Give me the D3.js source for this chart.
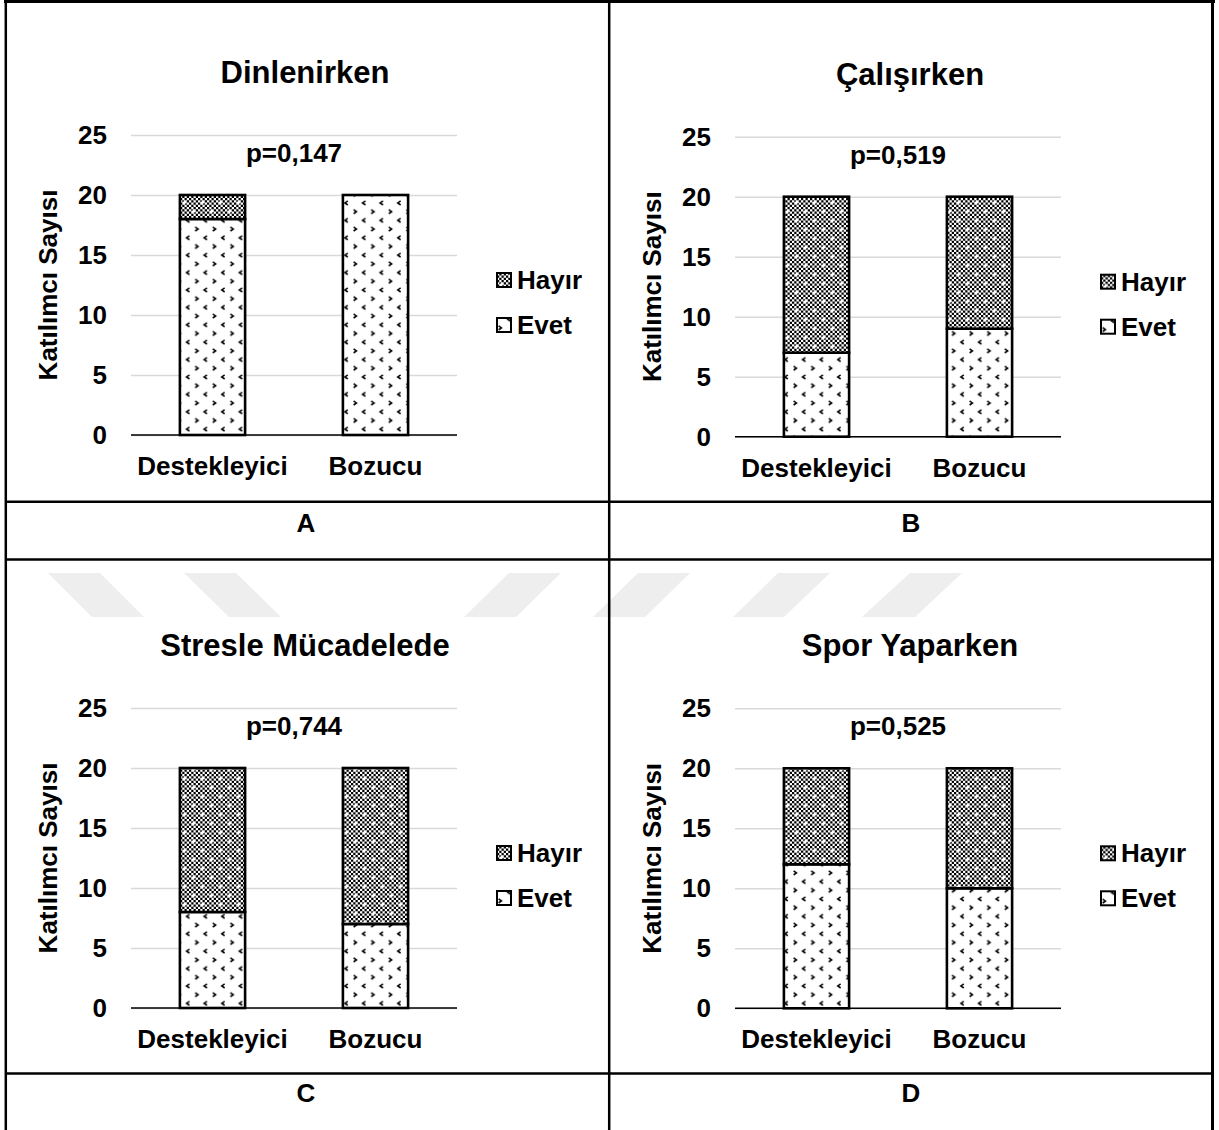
<!DOCTYPE html>
<html>
<head>
<meta charset="utf-8">
<script src="https://cdn.jsdelivr.net/npm/d3@7"></script>
<style>
  html, body { margin: 0; padding: 0; background: #fff; }
  svg { display: block; }
  text { font-family: "Liberation Sans", Arial, Helvetica, sans-serif; font-weight: bold; fill: #000; }
</style>
</head>
<body>
<svg id="fig" width="1219" height="1130"></svg>
<script>
// ---- data ----
const panelLetters = ["A", "B", "C", "D"];
const titles = ["Dinlenirken", "Çalışırken", "Stresle Mücadelede", "Spor Yaparken"];
const pLabels = ["p=0,147", "p=0,519", "p=0,744", "p=0,525"];
const categories = ["Destekleyici", "Bozucu"];
const seriesKeys = ["Evet", "Hayır"];
const evetCounts  = [[18, 20], [7, 9], [8, 7], [12, 10]];
const hayirCounts = [[2, 0], [13, 11], [12, 13], [8, 10]];
const yTicks = [0, 5, 10, 15, 20, 25];
const yMax = 25;

// ---- layout of the four cells ----
const layout = [
  { left: 131, right: 457,  top: 135,   bottom: 435,   cx: 305, letterY: 532 },
  { left: 735, right: 1061, top: 136.7, bottom: 436.7, cx: 910, letterY: 532 },
  { left: 131, right: 457,  top: 708,   bottom: 1008,  cx: 305, letterY: 1102 },
  { left: 735, right: 1061, top: 708.3, bottom: 1008.3, cx: 910, letterY: 1102 }
];

const svg = d3.select("#fig");
const defs = svg.append("defs");

// "Evet" fill: white with small black arrowheads
const pe = defs.append("pattern").attr("id", "pat-evet")
  .attr("patternUnits", "userSpaceOnUse").attr("width", 17.6).attr("height", 17.4);
pe.append("rect").attr("width", 17.6).attr("height", 17.4).attr("fill", "#fff");
pe.append("path").attr("d", "M1.6,0.8 L4.4,2.8 L1.6,4.8").attr("fill", "none")
  .attr("stroke", "#000").attr("stroke-width", 1.6);
pe.append("path").attr("d", "M13.4,9.5 L10.6,11.5 L13.4,13.5").attr("fill", "none")
  .attr("stroke", "#000").attr("stroke-width", 1.6);

// "Hayır" fill: fine dark checker with white sparkles
const ph = defs.append("pattern").attr("id", "pat-hayir")
  .attr("patternUnits", "userSpaceOnUse").attr("width", 18).attr("height", 18);
ph.append("rect").attr("width", 18).attr("height", 18).attr("fill", "#fff");
const cell = 2.25;
for (let i = 0; i < 8; i++) {
  for (let j = 0; j < 8; j++) {
    if ((i + j) % 2 === 0) {
      ph.append("rect").attr("x", i * cell).attr("y", j * cell)
        .attr("width", cell).attr("height", cell).attr("fill", "#000");
    }
  }
}
[[4.5, 4.5], [13.5, 13.5]].forEach(([x, y]) => {
  ph.append("rect").attr("x", x - 0.75).attr("y", y - 2).attr("width", 1.5).attr("height", 4).attr("fill", "#fff");
  ph.append("rect").attr("x", x - 2).attr("y", y - 0.75).attr("width", 4).attr("height", 1.5).attr("fill", "#fff");
});

const fills = { "Evet": "url(#pat-evet)", "Hayır": "url(#pat-hayir)" };

// faint diagonal stripes behind the gap between the two rows
const stripes = [
  [[48, 573], [100, 573], [144, 617], [92, 617]],
  [[184, 573], [236, 573], [281, 617], [229, 617]],
  [[509, 573], [561, 573], [516, 617], [464, 617]],
  [[638, 573], [690, 573], [645, 617], [593, 617]],
  [[778, 573], [830, 573], [784, 617], [733, 617]],
  [[910, 573], [962, 573], [915, 617], [862, 617]]
];
svg.append("g").selectAll("polygon").data(stripes).join("polygon")
  .attr("points", d => d.map(p => p.join(",")).join(" "))
  .attr("fill", "#eeeeee");

// ---- the four charts ----
panelLetters.forEach((letter, i) => {
  const L = layout[i];
  const g = svg.append("g");

  const rows = categories.map((c, k) => ({ cat: c, "Evet": evetCounts[i][k], "Hayır": hayirCounts[i][k] }));
  const stacked = d3.stack().keys(seriesKeys)(rows);

  const x = d3.scaleBand().domain(categories).range([L.left, L.right])
    .paddingInner(0.6).paddingOuter(0.3);
  const y = d3.scaleLinear().domain([0, yMax]).range([L.bottom, L.top]);

  // gridlines + tick labels
  const yAxis = g.append("g").attr("transform", `translate(${L.left},0)`)
    .call(d3.axisLeft(y).tickValues(yTicks).tickSize(-(L.right - L.left)).tickPadding(24));
  yAxis.select(".domain").remove();
  yAxis.selectAll(".tick line").attr("stroke", "#d9d9d9").attr("stroke-width", 1.4);
  yAxis.selectAll(".tick text").attr("font-size", 26)
    .attr("font-family", "Liberation Sans, Arial, sans-serif").attr("font-weight", "bold").attr("fill", "#000");

  // baseline
  g.append("line").attr("x1", L.left).attr("x2", L.right)
    .attr("y1", y(0)).attr("y2", y(0)).attr("stroke", "#000").attr("stroke-width", 1.6);

  // stacked bars
  g.append("g").selectAll("g").data(stacked).join("g")
    .attr("fill", d => fills[d.key])
    .selectAll("rect").data(d => d.filter(s => s[1] > s[0])).join("rect")
    .attr("x", d => x(d.data.cat))
    .attr("width", x.bandwidth())
    .attr("y", d => y(d[1]))
    .attr("height", d => y(d[0]) - y(d[1]))
    .attr("stroke", "#000").attr("stroke-width", 2.6);

  // category labels
  const xAxis = g.append("g").attr("transform", `translate(0,${y(0)})`)
    .call(d3.axisBottom(x).tickSize(0).tickPadding(21.5));
  xAxis.select(".domain").remove();
  xAxis.selectAll(".tick text").attr("font-size", 26)
    .attr("font-family", "Liberation Sans, Arial, sans-serif").attr("font-weight", "bold").attr("fill", "#000");

  // title
  g.append("text").attr("x", L.cx).attr("y", L.top - 52)
    .attr("text-anchor", "middle").attr("font-size", 31).text(titles[i]);

  // p value
  g.append("text").attr("x", (L.left + L.right) / 2).attr("y", L.top + 27)
    .attr("text-anchor", "middle").attr("font-size", 26).text(pLabels[i]);

  // y-axis title
  g.append("text")
    .attr("transform", `translate(${L.left - 83},${(L.top + L.bottom) / 2}) rotate(-90)`)
    .attr("text-anchor", "middle").attr("dominant-baseline", "central")
    .attr("font-size", 26).text("Katılımcı Sayısı");

  // legend (Hayır above Evet)
  const legendKeys = seriesKeys.slice().reverse();
  const mid = (L.top + L.bottom) / 2;
  const lg = g.append("g").selectAll("g").data(legendKeys).join("g")
    .attr("transform", (d, k) => `translate(${L.right + 40},${mid - 5 + k * 45})`);
  lg.append("rect").attr("x", 0).attr("y", -7).attr("width", 14).attr("height", 14)
    .attr("fill", d => fills[d]).attr("stroke", "#000").attr("stroke-width", 2);
  lg.append("text").attr("x", 20).attr("y", 0).attr("dominant-baseline", "central")
    .attr("font-size", 26).text(d => d);

  // panel letter
  svg.append("text").attr("x", L.cx + 1).attr("y", L.letterY)
    .attr("text-anchor", "middle").attr("font-size", 26).text(letter);
});

// ---- table rules ----
const rules = svg.append("g").attr("stroke", "#000");
rules.append("line").attr("x1", 4).attr("x2", 1215).attr("y1", 1.5).attr("y2", 1.5).attr("stroke-width", 3);
rules.append("line").attr("x1", 5.8).attr("x2", 5.8).attr("y1", 0).attr("y2", 1130).attr("stroke-width", 2.5);
rules.append("line").attr("x1", 609.2).attr("x2", 609.2).attr("y1", 0).attr("y2", 1130).attr("stroke-width", 2.5);
rules.append("line").attr("x1", 1212.5).attr("x2", 1212.5).attr("y1", 0).attr("y2", 1130).attr("stroke-width", 3);
[501.8, 559.5, 1073.5].forEach(yy => {
  rules.append("line").attr("x1", 5).attr("x2", 1214).attr("y1", yy).attr("y2", yy).attr("stroke-width", 2.5);
});
</script>
</body>
</html>
